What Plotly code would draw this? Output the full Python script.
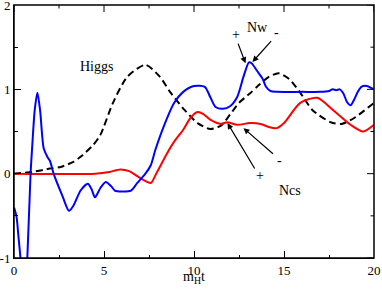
import plotly.graph_objects as go

# Higgs (dashed)
higgs_x = [0, 1, 2, 2.6, 3.3, 3.7, 4.4, 4.8, 5.5, 6.3, 7.3, 8.1, 8.7, 9.5, 10.2, 10.9, 11.5, 12.0, 12.5, 13.1, 13.6, 14.1, 14.7, 15.3, 15.9, 16.6, 17.6, 18.2, 18.9, 20]
higgs_y = [0.0, 0.02, 0.06, 0.08, 0.14, 0.2, 0.34, 0.46, 0.84, 1.15, 1.29, 1.15, 0.96, 0.75, 0.6, 0.53, 0.57, 0.7, 0.84, 0.95, 1.05, 1.14, 1.19, 1.12, 0.96, 0.75, 0.61, 0.59, 0.66, 0.84]

# Nw (blue)
nw_x = [0, 0.14, 0.25, 0.36, 0.5, 0.62, 0.74, 0.92, 1.0, 1.15, 1.3, 1.45, 1.65, 1.85, 2.0, 2.2, 2.7, 3.05, 3.3, 3.7, 4.1, 4.3, 4.5, 4.8, 5.1, 5.4, 5.6, 6.0, 6.5, 6.85, 7.3, 7.6, 7.85, 8.3, 8.9, 9.4, 10.0, 10.6, 10.9, 11.2, 11.6, 12.0, 12.4, 12.75, 13.05, 13.2, 13.5, 13.8, 14.0, 14.25, 14.6, 16.0, 17.0, 17.5, 17.7, 17.9, 18.1, 18.3, 18.5, 18.7, 18.9, 19.1, 19.3, 19.6, 20]
nw_y = [-0.4, -0.51, -0.75, -1.0, -1.4, -1.4, -1.0, 0.0, 0.28, 0.75, 0.96, 0.75, 0.3, 0.2, 0.15, 0.0, -0.27, -0.44, -0.38, -0.2, -0.12, -0.18, -0.28, -0.17, -0.1, -0.15, -0.2, -0.21, -0.2, -0.11, 0.0, 0.1, 0.28, 0.55, 0.84, 0.97, 1.04, 1.03, 0.91, 0.79, 0.77, 0.8, 0.91, 1.15, 1.32, 1.31, 1.22, 1.13, 1.03, 0.98, 0.97, 0.97, 0.97, 0.98, 1.0, 0.99, 1.0, 0.95, 0.85, 0.81, 0.88, 0.97, 1.03, 1.04, 1.0]

# Ncs (red)
ncs_x = [0, 4.5, 5.3, 5.9, 6.4, 7.0, 7.6, 7.9, 8.5, 8.9, 9.4, 9.8, 10.2, 10.5, 10.9, 11.5, 11.85, 12.4, 13.1, 13.7, 14.2, 14.6, 15.0, 15.9, 16.85, 17.75, 18.7, 19.4, 20]
ncs_y = [0.0, 0.0, 0.02, 0.05, 0.03, -0.05, -0.11, 0.0, 0.24, 0.38, 0.52, 0.66, 0.73, 0.71, 0.64, 0.59, 0.61, 0.58, 0.6, 0.59, 0.55, 0.54, 0.6, 0.84, 0.9, 0.75, 0.58, 0.5, 0.58]

x_ticks = [0, 5, 10, 15, 20]
x_labels = ["0", "5", "10", "15", "20"]
x_minor_ticks = [2.5, 7.5, 12.5, 17.5]
y_ticks = [-1, 0, 1, 2]
y_labels = ["-1", "0", "1", "2"]
y_minor_ticks = [-0.5, 0.5, 1.5]
x_range = [0, 20]
y_range = [-1, 2]

FONT = "Liberation Serif"
MAJOR_LEN = 7
MINOR_LEN = 3.5

fig = go.Figure()
fig.add_trace(go.Scatter(x=higgs_x, y=higgs_y, mode="lines",
                         line=dict(color="black", width=2, dash="7px,4px", shape="spline", smoothing=0.7)))
fig.add_trace(go.Scatter(x=ncs_x, y=ncs_y, mode="lines",
                         line=dict(color="#ff0000", width=2, shape="spline", smoothing=0.7)))
fig.add_trace(go.Scatter(x=nw_x, y=nw_y, mode="lines",
                         line=dict(color="#0000ff", width=2, shape="spline", smoothing=0.7)))

def arrow(tx, ty, hx, hy):
    fig.add_annotation(x=hx, y=hy, ax=tx, ay=ty, xref="x", yref="y", axref="x", ayref="y",
                       text="", showarrow=True, arrowhead=2, arrowsize=1, arrowwidth=1.2,
                       arrowcolor="black")

def label(x, y, t, size=14):
    fig.add_annotation(x=x, y=y, xref="x", yref="y", text=t, showarrow=False,
                       font=dict(family=FONT, size=size, color="black"))

arrow(12.42, 1.56, 12.86, 1.31)
arrow(14.36, 1.59, 13.25, 1.325)
arrow(13.42, 0.044, 11.86, 0.60)
arrow(14.47, 0.22, 12.75, 0.54)

label(12.36, 1.645, "+")
label(14.58, 1.67, "-")
label(13.53, 1.73, "Nw")
label(13.64, -0.027, "+")
label(14.75, 0.16, "-")
label(15.36, -0.2, "Ncs")
label(4.56, 1.27, "Higgs")

# x-axis title
fig.add_annotation(x=0.5, y=-0.079, xref="paper", yref="paper", text="m<sub>H</sub>t",
                   showarrow=False, yanchor="middle",
                   font=dict(family=FONT, size=14, color="black"))

# frame around the plot area
fig.add_shape(type="rect", xref="paper", yref="paper", x0=0, x1=1, y0=0, y1=1,
              line=dict(color="black", width=1.5), layer="above")

# mirrored ticks on the top and right edges
for xv, ln in [(v, MAJOR_LEN) for v in x_ticks] + [(v, MINOR_LEN) for v in x_minor_ticks]:
    fig.add_shape(type="line", xref="x", yref="paper", x0=xv, x1=xv,
                  ysizemode="pixel", yanchor=1, y0=0, y1=-ln,
                  line=dict(color="black", width=1), layer="above")
for yv, ln in [(v, MAJOR_LEN) for v in y_ticks] + [(v, MINOR_LEN) for v in y_minor_ticks]:
    fig.add_shape(type="line", xref="paper", yref="y", y0=yv, y1=yv,
                  xsizemode="pixel", xanchor=1, x0=0, x1=-ln,
                  line=dict(color="black", width=1), layer="above")

axis_common = dict(showline=True, linecolor="black", linewidth=1,
                   ticks="inside", ticklen=MAJOR_LEN, tickcolor="black", tickwidth=1,
                   showgrid=False, zeroline=False, automargin=False,
                   ticklabeloverflow="allow",
                   tickfont=dict(family=FONT, size=13, color="black"))

fig.update_xaxes(range=x_range, tickvals=x_ticks, ticktext=x_labels,
                 minor=dict(tickvals=x_minor_ticks, ticks="inside", ticklen=MINOR_LEN,
                            tickcolor="black", showgrid=False),
                 **axis_common)
fig.update_yaxes(range=y_range, tickvals=y_ticks, ticktext=y_labels,
                 minor=dict(tickvals=y_minor_ticks, ticks="inside", ticklen=MINOR_LEN,
                            tickcolor="black", showgrid=False),
                 **axis_common)

fig.update_layout(width=382, height=290, showlegend=False,
                  margin=dict(l=14, r=8, t=5, b=32),
                  paper_bgcolor="white", plot_bgcolor="white")

fig.write_html("out.html", config={"displayModeBar": False},
               post_script="document.body.style.margin='0';document.body.style.padding='0';")
